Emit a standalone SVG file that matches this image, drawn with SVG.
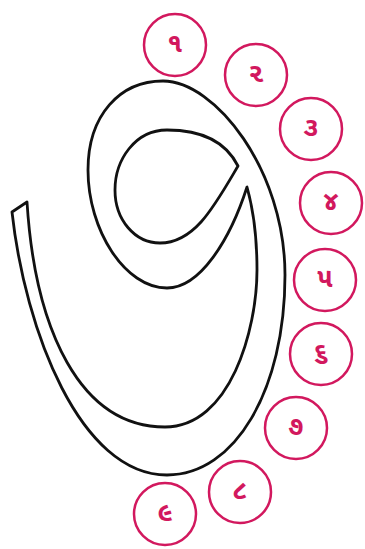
<svg xmlns="http://www.w3.org/2000/svg" width="365" height="549" viewBox="0 0 365 549">
<style>
.c{fill:none;stroke:#d2185e;stroke-width:2.5}
.t{fill:#d2185e;font-family:"Noto Sans Gujarati","Noto Sans","DejaVu Sans",sans-serif;font-size:27px;font-weight:bold;text-anchor:middle;dominant-baseline:central}
.g{fill:#fff;stroke:#111;stroke-width:2.8;stroke-linejoin:round}
</style>
<rect width="365" height="549" fill="#fff"/>
<g id="glyph">
<path class="g" fill-rule="evenodd" d="M12,212 L27,202 C35,330 80,427 165,427 C230,427 257,330 257,270 C257,230 252,205 247,187 C230,240 200,288 167,288 C125,288 88,230 88,170 C88,115 120,81 163,81 C215,81 285,170 285,275 C285,390 235,475 167,475 C80,475 25,330 12,212 Z M238,166 C225,140 200,130 167,130 C135,130 115,160 115,190 C115,220 135,243 160,243 C195,243 215,205 238,166 Z"/>
</g>
<g id="n1"><circle class="c" cx="175" cy="45" r="31"/><text class="t" x="175" y="45">૧</text></g>
<g id="n2"><circle class="c" cx="256" cy="75" r="31"/><text class="t" x="256" y="75">૨</text></g>
<g id="n3"><circle class="c" cx="311" cy="129" r="31"/><text class="t" x="311" y="129">૩</text></g>
<g id="n4"><circle class="c" cx="331" cy="203" r="31"/><text class="t" x="331" y="203">૪</text></g>
<g id="n5"><circle class="c" cx="325" cy="280" r="31"/><text class="t" x="325" y="280">૫</text></g>
<g id="n6"><circle class="c" cx="321" cy="354" r="31"/><text class="t" x="321" y="354">૬</text></g>
<g id="n7"><circle class="c" cx="296" cy="428" r="31"/><text class="t" x="296" y="428">૭</text></g>
<g id="n8"><circle class="c" cx="240" cy="492" r="31"/><text class="t" x="240" y="492">૮</text></g>
<g id="n9"><circle class="c" cx="165" cy="514" r="31"/><text class="t" x="165" y="514">૯</text></g>
</svg>
